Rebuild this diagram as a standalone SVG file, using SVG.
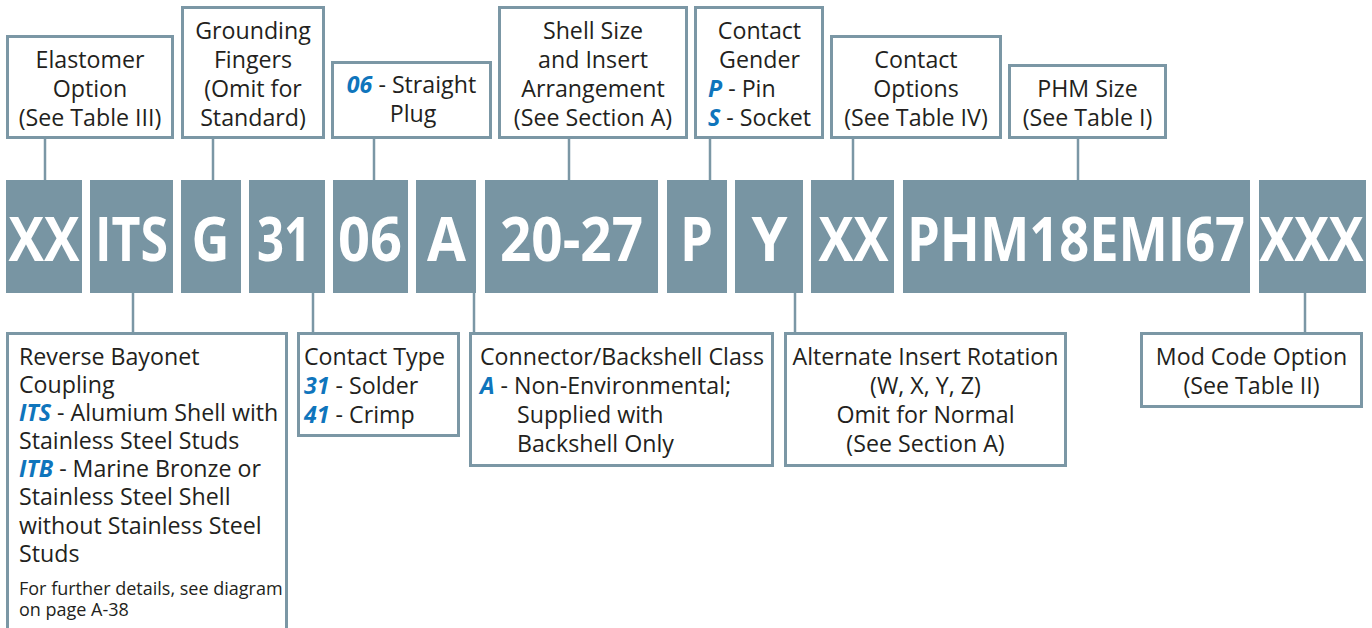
<svg xmlns="http://www.w3.org/2000/svg" width="1372" height="628" viewBox="0 0 1372 628">
<style>
.box{fill:#ffffff;stroke:#7b97a5;stroke-width:3}
.code{fill:#7895a3}
.ct{font-family:"Open Sans","Noto Sans",sans-serif;font-weight:bold;font-size:61px;fill:#ffffff}
.t{font-family:"Open Sans","Noto Sans",sans-serif;font-size:23.2px;fill:#231f20}
.s{font-family:"Open Sans","Noto Sans",sans-serif;font-size:18px;fill:#231f20}
.m{text-anchor:middle}
.b{font-weight:bold;font-style:italic;fill:#0f75bc}
.c{stroke:#7b97a5;stroke-width:2.5;fill:none}
</style>
<rect width="1372" height="628" fill="#ffffff"/>
<g id="connectors">
<line class="c" x1="45" y1="139" x2="45" y2="180"/>
<line class="c" x1="213" y1="139" x2="213" y2="180"/>
<line class="c" x1="374" y1="139" x2="374" y2="180"/>
<line class="c" x1="569" y1="139" x2="569" y2="180"/>
<line class="c" x1="710" y1="139" x2="710" y2="180"/>
<line class="c" x1="853" y1="139" x2="853" y2="180"/>
<line class="c" x1="1078" y1="139" x2="1078" y2="180"/>
<line class="c" x1="133" y1="293" x2="133" y2="333"/>
<line class="c" x1="313" y1="293" x2="313" y2="333"/>
<line class="c" x1="474" y1="293" x2="474" y2="333"/>
<line class="c" x1="795" y1="293" x2="795" y2="333"/>
<line class="c" x1="1305" y1="293" x2="1305" y2="333"/>
</g>
<g id="top-elastomer">
<rect class="box" x="7.5" y="36.5" width="165" height="101"/>
<text class="t m" x="90" y="68">Elastomer</text>
<text class="t m" x="90" y="97">Option</text>
<text class="t m" x="90" y="126">(See Table III)</text>
</g>
<g id="top-grounding">
<rect class="box" x="182.5" y="7.5" width="141" height="130"/>
<text class="t m" x="253" y="39">Grounding</text>
<text class="t m" x="253" y="68">Fingers</text>
<text class="t m" x="253" y="97">(Omit for</text>
<text class="t m" x="253" y="126">Standard)</text>
</g>
<g id="top-plug">
<rect class="box" x="332.5" y="62.5" width="158" height="75"/>
<text class="t m" x="411.5" y="93"><tspan class="b">06</tspan> - Straight</text>
<text class="t m" x="413" y="122">Plug</text>
</g>
<g id="top-shell">
<rect class="box" x="499.5" y="7.5" width="187" height="130"/>
<text class="t m" x="593" y="39">Shell Size</text>
<text class="t m" x="593" y="68">and Insert</text>
<text class="t m" x="593" y="97">Arrangement</text>
<text class="t m" x="593" y="126">(See Section A)</text>
</g>
<g id="top-gender">
<rect class="box" x="695.5" y="7.5" width="127" height="130"/>
<text class="t m" x="759.5" y="39">Contact</text>
<text class="t m" x="759.5" y="68">Gender</text>
<text class="t" x="708" y="97"><tspan class="b">P</tspan> - Pin</text>
<text class="t" x="708" y="126"><tspan class="b">S</tspan> - Socket</text>
</g>
<g id="top-options">
<rect class="box" x="831.5" y="36.5" width="169" height="101"/>
<text class="t m" x="916" y="68">Contact</text>
<text class="t m" x="916" y="97">Options</text>
<text class="t m" x="916" y="126">(See Table IV)</text>
</g>
<g id="top-phm">
<rect class="box" x="1009.5" y="65.5" width="156" height="72"/>
<text class="t m" x="1087.5" y="97">PHM Size</text>
<text class="t m" x="1087.5" y="126">(See Table I)</text>
</g>
<g id="code">
<rect class="code" x="6" y="180" width="76" height="113"/>
<rect class="code" x="90" y="180" width="83" height="113"/>
<rect class="code" x="181" y="180" width="60" height="113"/>
<rect class="code" x="249" y="180" width="76" height="113"/>
<rect class="code" x="333" y="180" width="75" height="113"/>
<rect class="code" x="416" y="180" width="60" height="113"/>
<rect class="code" x="485" y="180" width="173" height="113"/>
<rect class="code" x="667" y="180" width="60" height="113"/>
<rect class="code" x="735" y="180" width="68" height="113"/>
<rect class="code" x="811" y="180" width="83" height="113"/>
<rect class="code" x="903" y="180" width="347" height="113"/>
<rect class="code" x="1259" y="180" width="107" height="113"/>
<text class="ct" transform="translate(8.5,261) scale(0.8,1)" textLength="88.75" lengthAdjust="spacingAndGlyphs">XX</text>
<text class="ct" transform="translate(95,261) scale(0.8,1)" textLength="91.25" lengthAdjust="spacingAndGlyphs">ITS</text>
<text class="ct" transform="translate(191.5,261) scale(0.8,1)" textLength="47.5" lengthAdjust="spacingAndGlyphs">G</text>
<text class="ct" transform="translate(257,261) scale(0.8,1)" textLength="67.5" lengthAdjust="spacingAndGlyphs">31</text>
<text class="ct" transform="translate(338,261) scale(0.8,1)" textLength="80" lengthAdjust="spacingAndGlyphs">06</text>
<text class="ct" transform="translate(427,261) scale(0.8,1)" textLength="48.75" lengthAdjust="spacingAndGlyphs">A</text>
<text class="ct" transform="translate(500,261) scale(0.8,1)" textLength="178.75" lengthAdjust="spacingAndGlyphs">20-27</text>
<text class="ct" transform="translate(680,261) scale(0.8,1)" textLength="41.25" lengthAdjust="spacingAndGlyphs">P</text>
<text class="ct" transform="translate(751.5,261) scale(0.8,1)" textLength="45" lengthAdjust="spacingAndGlyphs">Y</text>
<text class="ct" transform="translate(818.5,261) scale(0.8,1)" textLength="87.5" lengthAdjust="spacingAndGlyphs">XX</text>
<text class="ct" transform="translate(907,261) scale(0.8,1)" textLength="422.5" lengthAdjust="spacingAndGlyphs">PHM18EMI67</text>
<text class="ct" transform="translate(1259.5,261) scale(0.8,1)" textLength="130" lengthAdjust="spacingAndGlyphs">XXX</text>
</g>
<g id="bottom-coupling">
<rect class="box" x="7.5" y="333.5" width="279" height="310"/>
<text class="t" x="19" y="365">Reverse Bayonet</text>
<text class="t" x="19" y="393">Coupling</text>
<text class="t" x="19" y="421"><tspan class="b">ITS</tspan> - Alumium Shell with</text>
<text class="t" x="19" y="449">Stainless Steel Studs</text>
<text class="t" x="19" y="477"><tspan class="b">ITB</tspan> - Marine Bronze or</text>
<text class="t" x="19" y="505">Stainless Steel Shell</text>
<text class="t" x="19" y="534">without Stainless Steel</text>
<text class="t" x="19" y="562">Studs</text>
<text class="s" x="19" y="595">For further details, see diagram</text>
<text class="s" x="19" y="616">on page A-38</text>
</g>
<g id="bottom-contact-type">
<rect class="box" x="298.5" y="333.5" width="160" height="102"/>
<text class="t" x="304" y="365">Contact Type</text>
<text class="t" x="304" y="394"><tspan class="b">31</tspan> - Solder</text>
<text class="t" x="304" y="423"><tspan class="b">41</tspan> - Crimp</text>
</g>
<g id="bottom-class">
<rect class="box" x="470.5" y="333.5" width="302" height="132"/>
<text class="t" x="480" y="365">Connector/Backshell Class</text>
<text class="t" x="480" y="394"><tspan class="b">A</tspan> - Non-Environmental;</text>
<text class="t" x="517" y="423">Supplied with</text>
<text class="t" x="517" y="452">Backshell Only</text>
</g>
<g id="bottom-rotation">
<rect class="box" x="785.5" y="333.5" width="280" height="132"/>
<text class="t m" x="925.5" y="365">Alternate Insert Rotation</text>
<text class="t m" x="925.5" y="394">(W, X, Y, Z)</text>
<text class="t m" x="925.5" y="423">Omit for Normal</text>
<text class="t m" x="925.5" y="452">(See Section A)</text>
</g>
<g id="bottom-mod">
<rect class="box" x="1141.5" y="333.5" width="220" height="73"/>
<text class="t m" x="1251.5" y="365">Mod Code Option</text>
<text class="t m" x="1251.5" y="394">(See Table II)</text>
</g>
</svg>
